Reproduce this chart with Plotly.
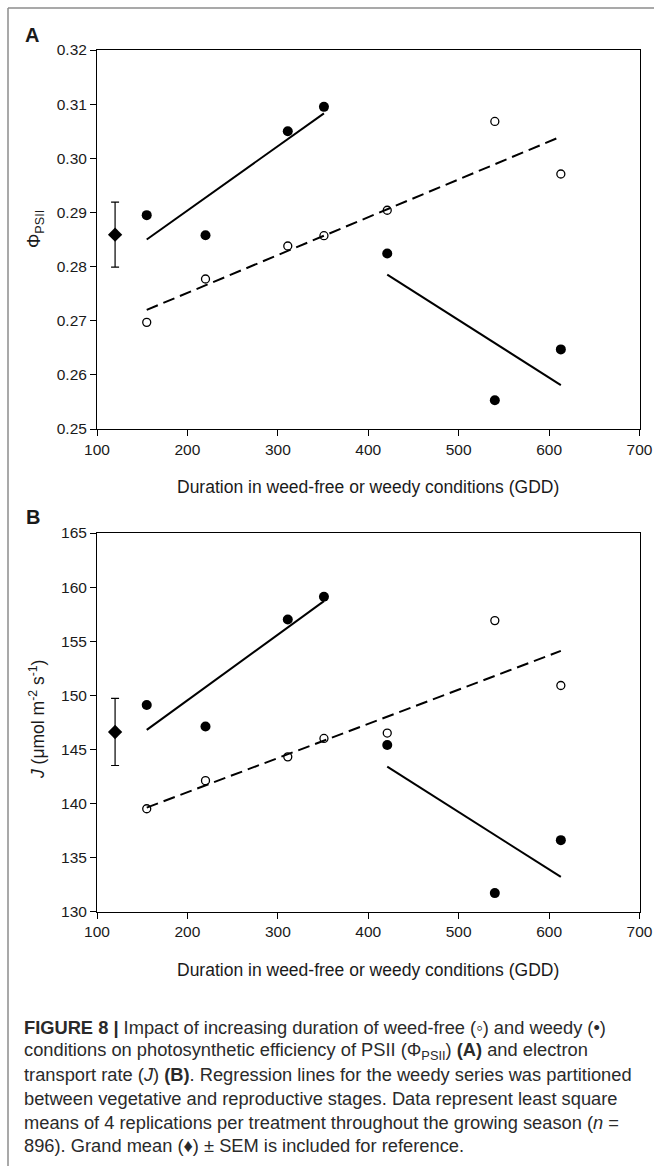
import plotly.graph_objects as go

# ---------------- data ----------------
gdd = [155, 220, 311, 351, 421, 540, 613]
phi_weedfree = [0.2697, 0.2777, 0.2838, 0.2857, 0.2904, 0.3068, 0.2971]
phi_weedy = [0.2895, 0.2858, 0.3050, 0.3095, 0.2824, 0.2553, 0.2647]
j_weedfree = [139.5, 142.1, 144.3, 146.0, 146.5, 156.9, 150.9]
j_weedy = [149.1, 147.1, 157.0, 159.1, 145.4, 131.7, 136.6]

# regression line end points
veg_x = [155, 351]
rep_x = [421, 613]
free_x = [155, 613]
phi_veg_fit = [0.2850, 0.3083]
phi_rep_fit = [0.2785, 0.2581]
phi_free_fit = [0.2720, 0.3040]
j_veg_fit = [146.8, 158.7]
j_rep_fit = [143.4, 133.2]
j_free_fit = [139.6, 154.1]

# grand mean +- SEM
gm_x = [120]
phi_gm = [0.2859]
phi_sem = [0.0060]
j_gm = [146.6]
j_sem = [3.1]

x_ticks = [100, 200, 300, 400, 500, 600, 700]

W, H = 654, 1166


def px(x):
    return x / W


def py(y):
    return 1 - y / H


FONT = "Liberation Sans, Arial, sans-serif"
fig = go.Figure()


def add_panel(xa, ya, free, weedy, veg_fit, rep_fit, free_fit, gm, sem):
    fig.add_trace(go.Scatter(x=veg_x, y=veg_fit, mode="lines", xaxis=xa, yaxis=ya,
                             line=dict(color="black", width=2), showlegend=False))
    fig.add_trace(go.Scatter(x=rep_x, y=rep_fit, mode="lines", xaxis=xa, yaxis=ya,
                             line=dict(color="black", width=2), showlegend=False))
    fig.add_trace(go.Scatter(x=free_x, y=free_fit, mode="lines", xaxis=xa, yaxis=ya,
                             line=dict(color="black", width=2, dash="12px,6px"), showlegend=False))
    fig.add_trace(go.Scatter(x=gdd, y=free, mode="markers", xaxis=xa, yaxis=ya,
                             marker=dict(symbol="circle-open", size=8, color="black",
                                         line=dict(width=1.3, color="black")),
                             showlegend=False))
    fig.add_trace(go.Scatter(x=gdd, y=weedy, mode="markers", xaxis=xa, yaxis=ya,
                             marker=dict(symbol="circle", size=10, color="black"),
                             showlegend=False))
    fig.add_trace(go.Scatter(x=gm_x, y=gm, mode="markers", xaxis=xa, yaxis=ya,
                             marker=dict(symbol="diamond", size=11, color="black"),
                             error_y=dict(type="data", array=sem, visible=True,
                                          color="black", thickness=1.2, width=4),
                             showlegend=False))


add_panel("x", "y", phi_weedfree, phi_weedy, phi_veg_fit, phi_rep_fit, phi_free_fit, phi_gm, phi_sem)
add_panel("x2", "y2", j_weedfree, j_weedy, j_veg_fit, j_rep_fit, j_free_fit, j_gm, j_sem)

axis_common = dict(showgrid=False, zeroline=False, showline=True, linecolor="black", linewidth=1,
                   mirror=True, ticks="outside", ticklen=6, tickwidth=1, tickcolor="black",
                   automargin=False,
                   tickfont=dict(family=FONT, size=15.5, color="#1a1a1a"))

xdom = [px(97), px(639.5)]
fig.update_layout(
    template="none",
    width=W, height=H, autosize=False,
    margin=dict(l=0, r=0, t=0, b=0, pad=0),
    paper_bgcolor="white", plot_bgcolor="white",
    showlegend=False,
    xaxis=dict(domain=xdom, range=[100, 700], tickvals=x_ticks, anchor="y", **axis_common),
    yaxis=dict(domain=[py(429), py(50)], range=[0.25, 0.32], dtick=0.01, tickformat=".2f",
               anchor="x", **axis_common),
    xaxis2=dict(domain=xdom, range=[100, 700], tickvals=x_ticks, anchor="y2", **axis_common),
    yaxis2=dict(domain=[py(911.5), py(533)], range=[130, 165], dtick=5, anchor="x2", **axis_common),
)

ann = []
title_font = dict(family=FONT, size=17.5, color="#1a1a1a")
xtitle = "Duration in weed-free or weedy conditions (GDD)"
ann.append(dict(x=px(368), y=py(487), text=xtitle, font=title_font))
ann.append(dict(x=px(368), y=py(970), text=xtitle, font=title_font))
ann.append(dict(x=px(35), y=py(229), text="Φ<sub>PSII</sub>", textangle=-90,
                font=dict(family=FONT, size=18, color="#1a1a1a")))
ann.append(dict(x=px(37), y=py(720), text="<i>J</i> (μmol m<sup>-2</sup> s<sup>-1</sup>)",
                textangle=-90, font=title_font))
ann.append(dict(x=px(32), y=py(35), text="<b>A</b>", font=dict(family=FONT, size=20, color="#1a1a1a")))
ann.append(dict(x=px(33), y=py(517), text="<b>B</b>", font=dict(family=FONT, size=20, color="#1a1a1a")))

caption = [
    "<b>FIGURE 8 |</b> Impact of increasing duration of weed-free (◦) and weedy (•)",
    "conditions on photosynthetic efficiency of PSII (Φ<sub>PSII</sub>) <b>(A)</b> and electron",
    "transport rate (<i>J</i>) <b>(B)</b>. Regression lines for the weedy series was partitioned",
    "between vegetative and reproductive stages. Data represent least square",
    "means of 4 replications per treatment throughout the growing season (<i>n</i> =",
    "896). Grand mean (♦) ± SEM is included for reference.",
]
cap_y = [1027, 1051, 1074, 1098, 1122, 1145]
for t, yy in zip(caption, cap_y):
    ann.append(dict(x=px(22), y=py(yy), text=t, xanchor="left",
                    font=dict(family=FONT, size=18.3, color="#2a2a2a")))

for a in ann:
    a.setdefault("xanchor", "center")
    a["yanchor"] = "middle"
    a["xref"] = "paper"
    a["yref"] = "paper"
    a["showarrow"] = False
fig.update_layout(annotations=ann)

# outer frame (left and top edges)
fig.add_shape(type="line", xref="paper", yref="paper", x0=px(8), x1=px(8), y0=0, y1=py(8),
              line=dict(color="#8c8c8c", width=1.5))
fig.add_shape(type="line", xref="paper", yref="paper", x0=px(8), x1=1, y0=py(8), y1=py(8),
              line=dict(color="#8c8c8c", width=1.5))

fig.write_html("out.html", config={"displayModeBar": False},
               post_script="document.body.style.margin='0';document.body.style.overflow='hidden';")
